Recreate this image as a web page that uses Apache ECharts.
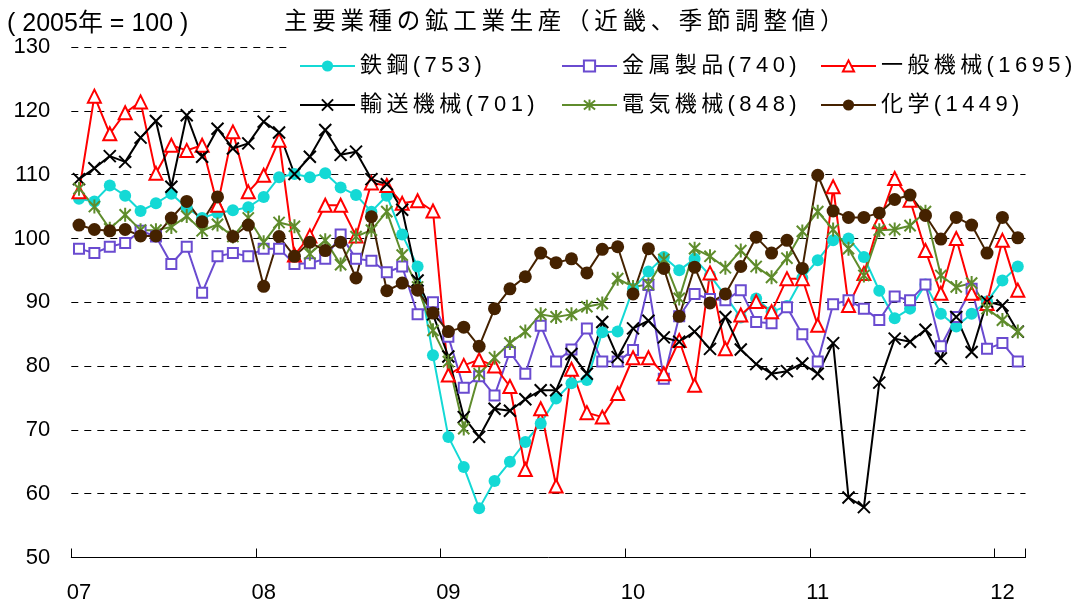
<!DOCTYPE html>
<html>
<head>
<meta charset="utf-8">
<script src="https://cdn.jsdelivr.net/npm/echarts@6/dist/echarts.min.js"></script>
<style>
  html, body { margin: 0; padding: 0; background: #fff; }
  #chart { width: 1078px; height: 605px; }
</style>
</head>
<body>
<div id="chart"></div>
<script>
// 年ラベル（1月の位置に表示）
var yearLabels = ['07', '08', '09', '10', '11', '12']

// 系列名（ウェイト）
var names = ['鉄鋼(753)', '金属製品(740)', '一般機械(1695)', '輸送機械(701)', '電気機械(848)', '化学(1449)']

// 2007年1月〜2012年2月、2005年=100
var steel = [106.2, 105.8, 108.3, 106.7, 104.3, 105.5, 107.0, 104.8, 103.2, 104.0,
  104.4, 104.9, 106.5, 109.6, 110.1, 109.6, 110.2, 108.0, 106.8, 104.2,
  106.7, 100.6, 95.6, 81.7, 68.9, 64.2, 57.7, 62.0, 65.0, 68.1,
  71.0, 74.9, 77.3, 77.8, 85.3, 85.4, 92.1, 94.8, 97.1, 95.0,
  96.8, 94.2, 91.0, 87.6, 90.6, 88.5, 89.4, 93.8, 96.6, 99.7,
  100.0, 97.1, 91.8, 87.5, 89.0, 92.8, 88.2, 86.2, 88.2, 90.1,
  93.4, 95.6]
var metal = [98.4, 97.7, 98.7, 99.3, 101.2, 100.3, 96.0, 98.7, 91.5, 97.2,
  97.7, 97.2, 98.4, 98.4, 96.0, 96.1, 96.8, 100.6, 96.8, 96.5,
  94.7, 95.6, 88.1, 90.0, 84.6, 76.6, 78.4, 75.4, 82.2, 78.8,
  86.3, 80.7, 82.6, 85.9, 80.7, 80.7, 82.5, 92.7, 78.0, 87.8,
  91.3, 90.5, 90.3, 91.9, 86.9, 86.7, 89.2, 85.0, 80.7, 89.7,
  90.3, 89.0, 87.2, 90.9, 90.3, 92.8, 83.1, 87.7, 92.1, 82.7,
  83.6, 80.7]
var general = [107.3, 122.3, 116.4, 119.7, 121.4, 110.2, 114.6, 113.8, 114.6, 105.2,
  116.7, 107.3, 109.9, 115.4, 97.4, 100.4, 105.2, 105.2, 100.4, 108.7,
  108.3, 105.5, 105.9, 104.3, 78.6, 80.1, 81.0, 80.0, 76.8, 63.8,
  73.3, 61.2, 79.5, 72.7, 72.0, 75.7, 81.3, 81.3, 78.8, 84.0,
  77.0, 94.6, 82.7, 88.0, 90.1, 88.5, 93.7, 93.7, 86.4, 108.1,
  89.5, 94.5, 102.6, 109.4, 106.0, 98.1, 91.4, 100.0, 91.4, 89.8,
  99.7, 91.9]
var transport = [109.3, 111.0, 112.9, 112.0, 115.8, 118.4, 108.1, 119.3, 112.8, 117.2,
  114.1, 114.9, 118.3, 116.6, 110.1, 112.8, 117.0, 113.1, 113.6, 109.3,
  108.5, 104.5, 93.4, 88.1, 81.5, 72.0, 68.9, 73.3, 73.0, 74.8,
  76.2, 76.2, 81.9, 78.8, 86.9, 81.4, 85.9, 87.1, 84.5, 83.8,
  85.4, 82.7, 87.7, 82.6, 80.3, 78.8, 79.2, 80.4, 78.8, 83.6,
  59.4, 57.9, 77.4, 84.3, 83.8, 85.7, 81.2, 87.7, 82.2, 90.1,
  89.5, 85.4]
var electric = [107.8, 105.0, 101.5, 103.7, 101.3, 101.3, 101.8, 103.5, 101.2, 102.2,
  100.3, 103.2, 99.4, 102.5, 101.9, 97.6, 99.7, 95.9, 100.3, 101.3,
  104.2, 97.4, 92.4, 85.6, 80.7, 70.2, 78.8, 81.3, 83.6, 85.4,
  88.1, 87.7, 88.1, 89.3, 89.8, 93.7, 92.4, 92.8, 96.7, 90.6,
  98.4, 97.2, 95.4, 98.1, 95.6, 93.9, 96.9, 101.1, 104.2, 101.4,
  98.4, 94.2, 101.3, 101.4, 102.0, 104.2, 94.2, 92.4, 93.0, 89.0,
  87.2, 85.4]
var chemical = [102.1, 101.4, 101.2, 101.4, 100.4, 100.4, 103.2, 105.8, 102.6, 106.5,
  100.3, 102.1, 92.5, 100.3, 97.2, 99.4, 98.1, 99.4, 93.8, 103.4,
  91.8, 93.0, 91.9, 88.3, 85.4, 86.1, 83.1, 89.0, 92.1, 94.0,
  97.7, 96.2, 96.8, 94.6, 98.3, 98.7, 91.3, 98.4, 95.3, 87.8,
  95.5, 89.9, 91.3, 95.6, 100.2, 97.7, 99.7, 95.3, 109.9, 104.3,
  103.3, 103.3, 104.0, 106.1, 106.8, 103.6, 99.9, 103.3, 102.1, 97.7,
  103.3, 100.1]

var months = []
yearLabels.forEach(function (y) {
  for (var m = 1; m <= 12; m++) months.push('20' + y + '-' + m)
})
months = months.slice(0, steel.length)

var font = "'Liberation Sans', 'Noto Sans CJK JP', sans-serif"
// 文字間隔（元図は字間が広い）
function spaced(s) {
  return s.split('').join('\u2009')
}

var crossPath = 'path://M0,0L10,10M10,0L0,10'
var starPath = 'path://M1,1L9,9M9,1L1,9M5,0L5,10'

function makeSeries(name, data, color, symbol, size, fill, border) {
  return {
    name: name,
    type: 'line',
    data: data,
    symbol: symbol,
    symbolSize: size,
    symbolKeepAspect: true,
    showAllSymbol: true,
    lineStyle: { color: color, width: 2 },
    itemStyle: { color: fill, borderColor: color, borderWidth: border },
    emphasis: { disabled: true }
  }
}

var chart = echarts.init(document.getElementById('chart'))

var legendBase = {
  orient: 'vertical',
  top: 55,
  padding: 0,
  itemWidth: 55,
  itemHeight: 14,
  itemGap: 17,
  selectedMode: false,
  formatter: spaced,
  textStyle: { fontSize: 22, lineHeight: 22, color: '#000', fontFamily: font }
}

var option = {
  animation: false,
  textStyle: { fontFamily: font },
  title: [{
    text: '( 2005年 = 100 )',
    left: 7,
    top: 12,
    padding: 0,
    textStyle: { fontSize: 25, fontWeight: 'normal', color: '#000', fontFamily: font }
  }, {
    text: spaced('主要業種の鉱工業生産（近畿、季節調整値）'),
    left: 284,
    top: 11,
    padding: 0,
    textStyle: { fontSize: 23.5, fontWeight: 'normal', color: '#000', fontFamily: font }
  }],
  legend: [
    Object.assign({}, legendBase, { left: 299, data: [names[0], names[3]] }),
    Object.assign({}, legendBase, { left: 561, data: [names[1], names[4]] }),
    Object.assign({}, legendBase, { left: 820, data: [names[2], names[5]] })
  ],
  // 凡例の白い背景（目盛線を隠す）
  graphic: [{
    type: 'rect',
    z: 1,
    shape: { x: 290, y: 38, width: 760, height: 84 },
    style: { fill: '#fff' }
  }],
  grid: {
    left: 71.3,
    right: 52.5,
    top: 47,
    bottom: 47.5,
    outerBoundsMode: 'none'
  },
  xAxis: {
    type: 'category',
    data: months,
    boundaryGap: true,
    axisLine: { lineStyle: { color: '#000', width: 1 } },
    axisTick: { show: true, interval: 11, inside: true, length: 9, lineStyle: { color: '#000', width: 1 } },
    axisLabel: {
      interval: 11,
      margin: 24,
      fontSize: 22,
      color: '#000',
      formatter: function (v) { return v.slice(2, 4) }
    },
    splitLine: { show: false }
  },
  yAxis: {
    type: 'value',
    min: 50,
    max: 130,
    interval: 10,
    axisLine: { show: false },
    axisTick: { show: false },
    axisLabel: { fontSize: 22, color: '#000', margin: 21 },
    splitLine: { lineStyle: { type: [7, 6], color: '#000', width: 1 } }
  },
  series: [
    makeSeries(names[0], steel, '#14D9D5', 'circle', 12, '#14D9D5', 0),
    makeSeries(names[1], metal, '#6A4BD0', 'rect', 10, '#fff', 2),
    makeSeries(names[2], general, '#FF0000', 'triangle', 13, '#fff', 2),
    makeSeries(names[3], transport, '#000000', crossPath, 12, '#000', 2),
    makeSeries(names[4], electric, '#5F8C2C', starPath, 14, '#5F8C2C', 2),
    makeSeries(names[5], chemical, '#452200', 'circle', 13, '#452200', 0)
  ]
}

chart.setOption(option)
</script>
</body>
</html>
